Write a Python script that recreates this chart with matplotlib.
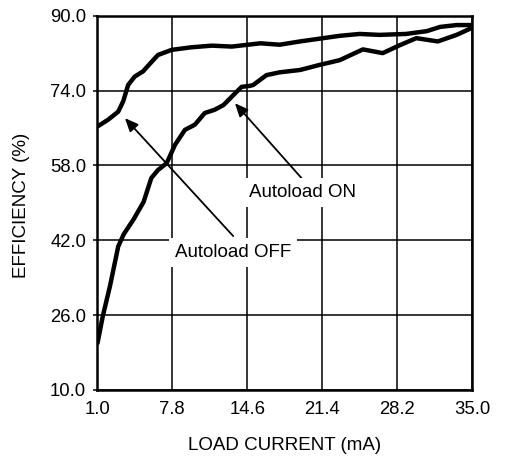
import matplotlib
matplotlib.use("Agg")
import matplotlib.pyplot as plt

plt.rcParams['font.family'] = ['Liberation Sans', 'DejaVu Sans']

# Data
x_ticks = [1.0, 7.8, 14.6, 21.4, 28.2, 35.0]
y_ticks = [10.0, 26.0, 42.0, 58.0, 74.0, 90.0]

off_x = [1.0, 2.0, 2.9, 3.35, 3.8, 4.4, 5.15, 5.8, 6.5, 7.75, 9.55, 11.4, 13.2,
         15.8, 17.55, 19.4, 21.2, 23.0, 24.8, 26.6, 29.0, 30.9, 32.1, 33.6, 35.0]
off_y = [66.3, 67.8, 69.5, 71.7, 75.2, 77.0, 78.1, 79.8, 81.6, 82.7, 83.25, 83.6, 83.4,
         84.1, 83.8, 84.5, 85.1, 85.7, 86.1, 85.9, 86.1, 86.7, 87.6, 88.0, 88.0]

on_x = [1.0, 1.5, 2.15, 2.9, 3.4, 4.3, 5.2, 5.9, 6.5, 7.3, 8.05, 8.95, 9.85, 10.75,
        11.65, 12.45, 13.5, 14.1, 14.85, 15.15, 16.35, 17.55, 19.4, 21.2, 23.0, 25.1,
        26.9, 28.45, 29.95, 31.9, 33.6, 35.0]
on_y = [19.8, 25.8, 32.2, 40.7, 43.3, 46.5, 50.2, 55.3, 57.0, 58.5, 62.4, 65.6, 66.7, 69.2,
        69.9, 70.9, 73.4, 74.8, 75.0, 75.2, 77.3, 77.9, 78.4, 79.5, 80.5, 82.8,
        82.0, 83.7, 85.2, 84.5, 85.9, 87.4]

W, H = 507, 458
fig = plt.figure(figsize=(W / 100, H / 100), dpi=100)
L, R, T, B = 97.3, 472.0, 15.7, 390.0
ax = fig.add_axes([L / W, 1 - B / H, (R - L) / W, (B - T) / H])

ax.set_xlim(x_ticks[0], x_ticks[-1])
ax.set_ylim(y_ticks[0], y_ticks[-1])
ax.set_xticks(x_ticks)
ax.set_yticks(y_ticks)
ax.set_xticklabels([f"{v:.1f}" for v in x_ticks])
ax.set_yticklabels([f"{v:.1f}" for v in y_ticks])
ax.grid(True, color='black', linewidth=1.1, zorder=0)
ax.set_axisbelow(True)
for s in ax.spines.values():
    s.set_linewidth(1.8)
    s.set_color('black')
ax.tick_params(axis='y', length=3, width=1.1, pad=5, labelsize=13.3)
ax.tick_params(axis='x', length=0, pad=8, labelsize=13.3)

ax.plot(off_x, off_y, color='black', linewidth=3.2, solid_joinstyle='round',
        solid_capstyle='butt', zorder=3)
ax.plot(on_x, on_y, color='black', linewidth=3.2, solid_joinstyle='round',
        solid_capstyle='butt', zorder=3)

arrowprops = dict(arrowstyle='-|>,head_length=0.8,head_width=0.35', color='black',
                  linewidth=1.3, shrinkA=0, shrinkB=0)
ax.annotate('', xy=(3.51, 68.1), xytext=(13.33, 42.9), arrowprops=arrowprops, zorder=4)
ax.annotate('', xy=(13.49, 71.3), xytext=(19.53, 55.3), arrowprops=arrowprops, zorder=4)

bbox = dict(facecolor='white', edgecolor='none', pad=4)
ax.text(14.75, 52.2, 'Autoload ON', fontsize=13.5, ha='left', va='center',
        bbox=bbox, zorder=5)
ax.text(8.05, 39.4, 'Autoload OFF', fontsize=13.5, ha='left', va='center',
        bbox=bbox, zorder=5)

fig.text((L + R) / 2 / W, 1 - 445 / H, 'LOAD CURRENT (mA)', fontsize=13.5,
         ha='center', va='center')
fig.text(22 / W, 1 - 205 / H, 'EFFICIENCY (%)', fontsize=13.5, rotation=90,
         ha='center', va='center')

fig.savefig('out.png', dpi=100)
